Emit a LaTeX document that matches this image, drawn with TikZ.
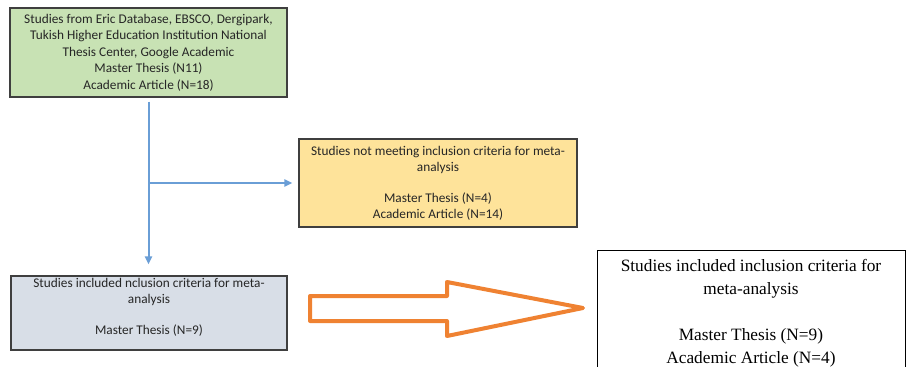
\documentclass[tikz,border=0pt]{standalone}
\usepackage{fontspec}
\setmainfont{Carlito}
\newfontfamily\serifbox{Liberation Serif}
\usepackage{tikz}
\usetikzlibrary{arrows.meta,positioning,calc}
\definecolor{Leaf}{HTML}{C8E2B4}
\definecolor{Sand}{HTML}{FEE39A}
\definecolor{Slate}{HTML}{D8DEE7}
\definecolor{Edge}{HTML}{3F3F3F}
\definecolor{Sky}{HTML}{6A9ED6}
\definecolor{Flame}{HTML}{EF8232}
\tikzset{
  box/.style={draw=Edge, line width=1.3pt, align=center, inner sep=0pt,
              font=\fontsize{13.3}{15.8}\selectfont, text=black!85},
  srcbox/.style={box, fill=Leaf, minimum width=277pt, minimum height=89pt,
                 font=\fontsize{13.3}{16.5}\selectfont},
  outbox/.style={box, fill=Sand, minimum width=278pt, minimum height=88pt},
  inbox/.style={box, fill=Slate, minimum width=276pt, minimum height=74pt},
  result/.style={draw=black, line width=1pt, fill=white, align=center,
                 minimum width=308pt, minimum height=126pt, inner sep=0pt,
                 font=\serifbox\fontsize{17.3}{23}\selectfont},
  flow/.style={-{Triangle[length=8pt,width=7pt]}, line width=2pt, draw=Sky},
  bigarrow/.style={draw=Flame, line width=4pt, line join=round},
}

\begin{document}
\begin{tikzpicture}[x=1pt,y=-1pt]
  \useasboundingbox (0,0) rectangle (906,367);
  \node[srcbox] (src) at (148.5,52.5)
    {Studies from Eric Database, EBSCO, Dergipark,\\
     Tukish Higher Education Institution National\\
     Thesis Center, Google Academic\\
     Master Thesis (N11)\\
     Academic Article (N=18)};
  \node[outbox] (excl) at (438,183)
    {Studies not meeting inclusion criteria for meta-\\
     analysis\\[15.5pt]
     Master Thesis (N=4)\\
     Academic Article (N=14)};
  \node[inbox] (incl) at (149,313)
    {Studies included nclusion criteria for meta-\\
     analysis\\[15pt]
     Master Thesis (N=9)\\[-2pt]\mbox{}};
  \node[result] (final) at (751,313)
    {Studies included inclusion criteria for\\
     meta-analysis\\[23pt]
     Master Thesis (N=9)\\
     Academic Article (N=4)};
  % blue flow lines
  \draw[flow, shorten <=4pt, shorten >=11pt] (src.south) -- (src.south |- incl.north);
  \draw[flow, shorten >=6pt] (src.south |- excl.west) -- (excl.west);
  % orange block arrow
  \draw[bigarrow] (310,296) -- (447,296) -- (447,282) -- (583,308)
    -- (447,336) -- (447,321) -- (310,321) -- cycle;
\end{tikzpicture}
\end{document}
